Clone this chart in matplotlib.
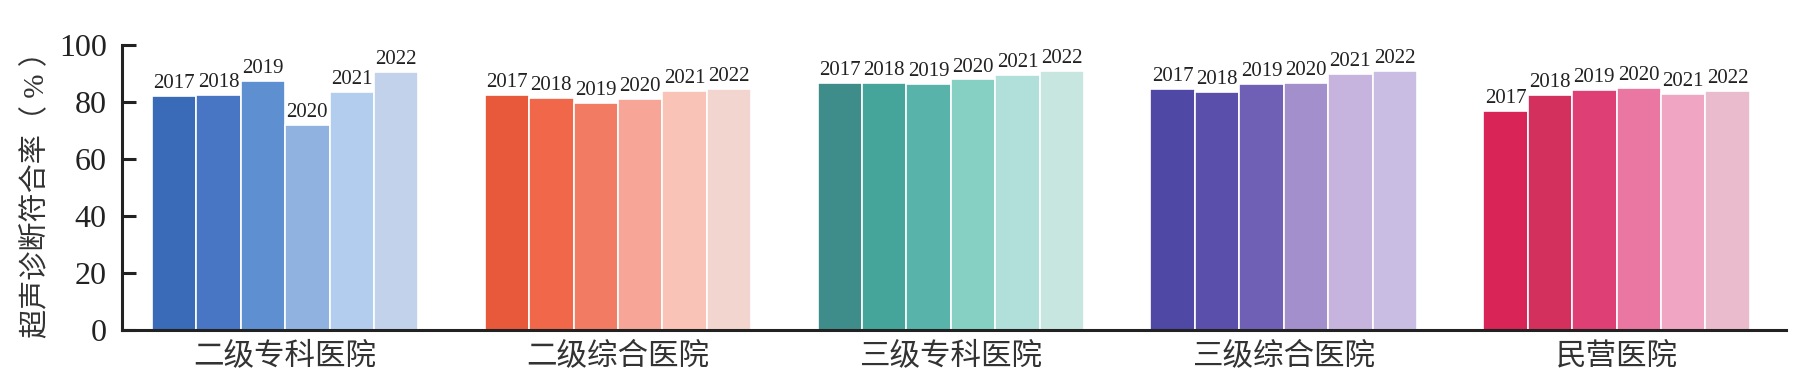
import numpy as np
import matplotlib
matplotlib.use('Agg')
import matplotlib.pyplot as plt

plt.rcParams['font.family'] = ['Liberation Serif', 'Noto Sans CJK SC']

# data
categories = ['二级专科医院', '二级综合医院', '三级专科医院', '三级综合医院', '民营医院']
years = ['2017', '2018', '2019', '2020', '2021', '2022']
rates = [
    [82.0, 82.6, 87.3, 71.9, 83.5, 90.5],
    [82.5, 81.5, 79.8, 81.1, 84.0, 84.7],
    [86.8, 86.8, 86.2, 87.9, 89.4, 90.9],
    [84.7, 83.5, 86.2, 86.8, 89.8, 90.8],
    [76.8, 82.5, 84.2, 84.8, 82.9, 84.0],
]
palettes = [
    ['#3a6bb8', '#4876c4', '#5e8fd0', '#8fb2e0', '#b3cdee', '#c2d2ea'],
    ['#e8583a', '#f06749', '#f27b63', '#f6a596', '#f9c4b7', '#f3d5cf'],
    ['#3e8d8a', '#45a59b', '#58b4aa', '#86d0c3', '#b0e0d9', '#c8e6e0'],
    ['#4f48a5', '#5a50ab', '#6f60b6', '#a28fcc', '#c6b4de', '#c9bde3'],
    ['#d82457', '#d3305e', '#de3f74', '#e977a1', '#f0a5c2', '#eabbcd'],
]

fig = plt.figure(figsize=(18.08, 3.87), dpi=100)
ax = fig.add_axes([0.0675, 0.147, 0.9205, 0.737])

step = 0.1335
x = np.arange(len(categories))
offsets = (np.arange(len(years)) - (len(years) - 1) / 2) * step

for i, cat in enumerate(categories):
    for j, yr in enumerate(years):
        xpos = x[i] + offsets[j]
        ax.bar(xpos, rates[i][j], width=step, color=palettes[i][j],
               edgecolor='white', linewidth=1.2)
        ax.annotate(yr, (xpos, rates[i][j]), xytext=(0, 2),
                    textcoords='offset points', ha='center', va='bottom',
                    fontsize=15, color='#222222', annotation_clip=False)

ax.set_xlim(-0.49, 4.51)
ax.set_ylim(0, 100)
ax.set_yticks([0, 20, 40, 60, 80, 100])
ax.set_xticks(x)
ax.set_xticklabels(categories, fontsize=22, color='#333333')
ax.tick_params(axis='x', length=0, pad=9)
ax.tick_params(axis='y', direction='in', length=10, width=2.2, pad=11,
               labelsize=23, colors='#222222')
ax.set_ylabel('超声诊断符合率（ % ）', fontsize=21, color='#333333', labelpad=6)

for s in ['top', 'right']:
    ax.spines[s].set_visible(False)
for s in ['left', 'bottom']:
    ax.spines[s].set_linewidth(2.2)
    ax.spines[s].set_color('#222222')

fig.savefig('out.png', dpi=100)
